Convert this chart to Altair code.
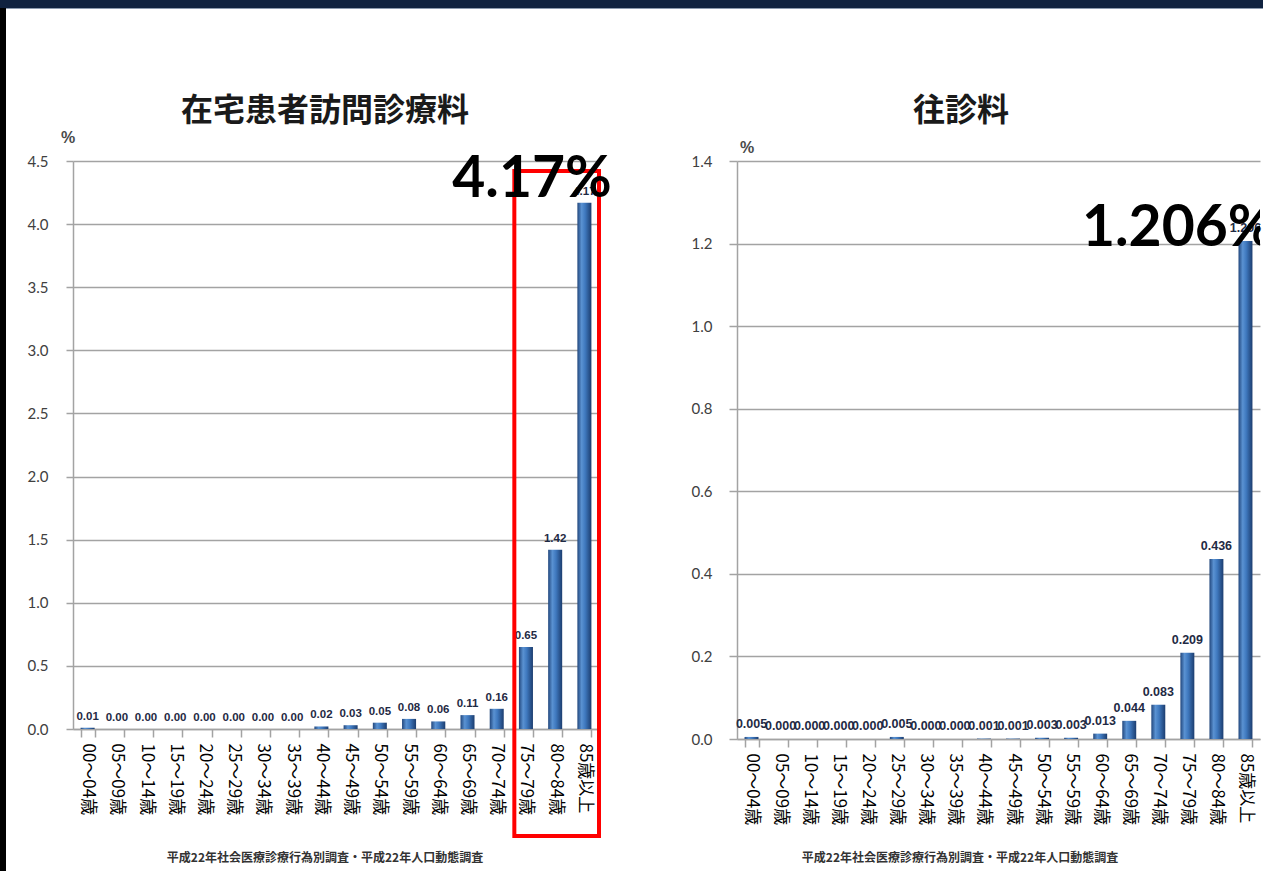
import altair as alt
import pandas as pd

ages = ["00～04歳", "05～09歳", "10～14歳", "15～19歳", "20～24歳", "25～29歳",
        "30～34歳", "35～39歳", "40～44歳", "45～49歳", "50～54歳", "55～59歳",
        "60～64歳", "65～69歳", "70～74歳", "75～79歳", "80～84歳", "85歳以上"]
home_visit_pct = [0.01, 0.00, 0.00, 0.00, 0.00, 0.00, 0.00, 0.00, 0.02,
                  0.03, 0.05, 0.08, 0.06, 0.11, 0.16, 0.65, 1.42, 4.17]
house_call_pct = [0.005, 0.000, 0.000, 0.000, 0.000, 0.005, 0.000, 0.000, 0.001,
                  0.001, 0.003, 0.003, 0.013, 0.044, 0.083, 0.209, 0.436, 1.206]
left_ticks = [0.0, 0.5, 1.0, 1.5, 2.0, 2.5, 3.0, 3.5, 4.0, 4.5]
right_ticks = [0.0, 0.2, 0.4, 0.6, 0.8, 1.0, 1.2, 1.4]
panel_titles = ["在宅患者訪問診療料", "往診料"]
source_note = "平成22年社会医療診療行為別調査・平成22年人口動態調査"

GRID = "#A3A3A3"
CJK = "Noto Sans CJK JP"
bar_fill = alt.Gradient(
    gradient="linear", x1=0, x2=1, y1=0, y2=0,
    stops=[alt.GradientStop(offset=0, color="#22477D"),
           alt.GradientStop(offset=0.3, color="#5A92D2"),
           alt.GradientStop(offset=0.55, color="#3F79BF"),
           alt.GradientStop(offset=1, color="#1C3D6F")])


def one(text):
    return alt.Chart(pd.DataFrame({"t": [text]}))


def panel(values, fmt, ymax, yticks, W, H, tick_size, lab_pad, lab_size):
    df = pd.DataFrame({"age": ages, "pct": values,
                       "label": [format(v, fmt) for v in values]})
    x = alt.X("age:N", sort=ages, title=None,
              scale=alt.Scale(paddingInner=0.52, paddingOuter=0.26),
              axis=alt.Axis(labelAngle=90, labelAlign="left", labelBaseline="middle",
                            labelFont=CJK, labelFontSize=17, labelColor="#000000",
                            labelPadding=6, labelOverlap=False, tickBand="extent",
                            tickSize=8, tickColor=GRID, tickWidth=1.5,
                            domainColor=GRID, domainWidth=1.5, grid=False))
    y = alt.Y("pct:Q", title=None,
              scale=alt.Scale(domain=[0, ymax], nice=False, zero=True),
              axis=alt.Axis(values=yticks, format=".1f", grid=True, gridColor=GRID,
                            gridWidth=1.5, domainColor=GRID, domainWidth=1.5,
                            tickColor=GRID, tickWidth=1.5, tickSize=tick_size,
                            labelPadding=lab_pad, labelFont="Lato", labelFontSize=15,
                            labelColor="#404040"))
    base = alt.Chart(df)
    bars = base.mark_bar(color=bar_fill).encode(x=x, y=y)
    labels = base.mark_text(baseline="bottom", dy=-6, font="Liberation Sans",
                            fontSize=lab_size, fontWeight="bold",
                            color="#1F2A44").encode(
        x=alt.X("age:N", sort=ages), y="pct:Q", text="label:N")
    return bars, labels


LW, LH = 526, 568
RW, RH = 523, 578

lbars, llabels = panel(home_visit_pct, ".2f", 4.5, left_ticks, LW, LH, 7, 18, 11.5)
rbars, rlabels = panel(house_call_pct, ".3f", 1.4, right_ticks, RW, RH, 8, 17, 12.5)

strip = one("").mark_rect(color="#000000").encode(
    x=alt.value(-73), x2=alt.value(-67), y=alt.value(-161), y2=alt.value(710))
band = one("").mark_rect(color="#10223F").encode(
    x=alt.value(-73), x2=alt.value(1190), y=alt.value(-161), y2=alt.value(-153))
band_line = one("").mark_rect(color="#8C9AAE").encode(
    x=alt.value(-67), x2=alt.value(1190), y=alt.value(-153), y2=alt.value(-152))

red_box = one("").mark_rect(fillOpacity=0, stroke="#FF0000", strokeWidth=4).encode(
    x=alt.value(LW * 15 / 18 + 3), x2=alt.value(LW), y=alt.value(10), y2=alt.value(675))

big_left = one(f"{home_visit_pct[-1]:.2f}%").mark_text(
    font="Lato", fontSize=57, fontWeight="bold", color="#000000",
    align="center", baseline="alphabetic").encode(
    x=alt.value(459), y=alt.value(36), text="t:N")
big_right = one(f"{house_call_pct[-1]:.3f}%").mark_text(
    font="Lato", fontSize=57, fontWeight="bold", color="#000000",
    align="left", baseline="alphabetic", clip=True).encode(
    x=alt.value(345), y=alt.value(85), text="t:N")


def title_mark(text, xpos):
    return one(text).mark_text(font=CJK, fontSize=32, fontWeight="bold",
                                color="#1A1A1A", align="center",
                                baseline="alphabetic").encode(
        x=alt.value(xpos), y=alt.value(-40), text="t:N")


def pct_mark(xpos, ypos):
    return one("%").mark_text(font="Liberation Sans", fontSize=16, fontWeight="bold",
                              color="#4A4A4A", align="center",
                              baseline="middle").encode(
        x=alt.value(xpos), y=alt.value(ypos), text="t:N")


def note_mark(xpos):
    return one(source_note).mark_text(font=CJK, fontSize=12, fontWeight="bold",
                                      color="#333333", align="center",
                                      baseline="middle").encode(
        x=alt.value(xpos), y=alt.value(697), text="t:N")


left = alt.layer(
    strip, band, band_line, lbars, llabels, red_box, big_left,
    title_mark(panel_titles[0], 252), pct_mark(-5, -23), note_mark(252)
).properties(width=LW, height=LH)

right = alt.layer(
    rbars, rlabels, big_right,
    title_mark(panel_titles[1], 224), pct_mark(10, -13), note_mark(223)
).properties(width=RW, height=RH)

chart = alt.hconcat(left, right, spacing=138, bounds="flush").properties(
    padding=0, background="#FFFFFF"
).configure_view(stroke=None)

chart.save("out.html", embed_options={"renderer": "svg", "actions": False})
